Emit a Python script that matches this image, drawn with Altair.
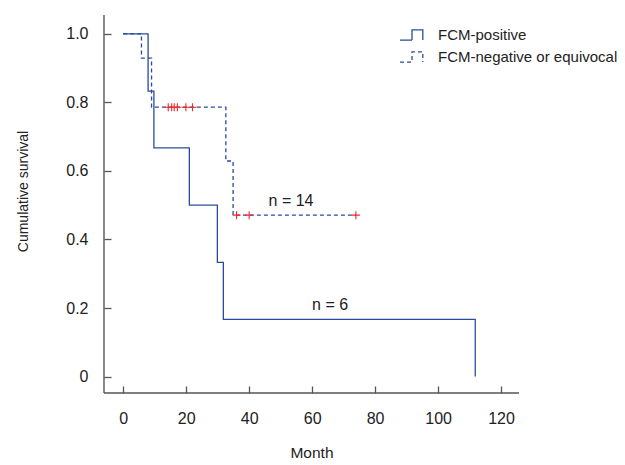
import altair as alt
import pandas as pd

# ---- data ----
pos_month = [0, 7.9, 9.75, 21.0, 29.9, 31.8, 111.8]
pos_surv = [1.0, 0.833, 0.667, 0.5, 0.333, 0.167, 0.0]
neg_month = [0, 5.8, 9.0, 32.6, 34.9, 73.9]
neg_surv = [1.0, 0.929, 0.786, 0.629, 0.471, 0.471]
cens_month = [14.3, 15.4, 16.2, 17.2, 19.9, 22.0, 36.0, 40.0, 73.9]
cens_surv = [0.786, 0.786, 0.786, 0.786, 0.786, 0.786, 0.471, 0.471, 0.471]
ann_text = ["n = 14", "n = 6"]
ann_month = [53.3, 65.7]
ann_surv = [0.511, 0.209]
groups = ["FCM-positive", "FCM-negative or equivocal"]
x_ticks = [0, 20, 40, 60, 80, 100, 120]
y_ticks = [0, 0.2, 0.4, 0.6, 0.8, 1.0]

BLUE = "#2b4a9c"
RED = "#f0282d"
AX = "#555555"
FONT = "Liberation Sans"
W, H = 415, 378

lines_df = pd.DataFrame({
    "month": pos_month + neg_month,
    "surv": pos_surv + neg_surv,
    "group": [groups[0]] * len(pos_month) + [groups[1]] * len(neg_month),
})
cens_df = pd.DataFrame({"month": cens_month, "surv": cens_surv})
ann_df = pd.DataFrame({"month": ann_month, "surv": ann_surv, "text": ann_text})

xs = alt.Scale(domain=[-6.1, 125.7], nice=False, zero=False)
ys = alt.Scale(domain=[-0.048, 1.055], nice=False, zero=False)

x_axis = alt.Axis(values=x_ticks, format="d", offset=-7, tickSize=7, domain=False,
                  grid=False, labelPadding=17, labelFontSize=16, labelColor="#222",
                  tickColor=AX, tickWidth=1.3, title="Month", titleFontSize=15.5,
                  titleFontWeight="normal", titleColor="#222",
                  titleX=207.5, titleY=66, titleBaseline="middle")
y_axis = alt.Axis(values=y_ticks, offset=-7, tickSize=7, domain=False, grid=False,
                  labelExpr="datum.value == 0 ? '0' : format(datum.value, '.1f')",
                  labelPadding=16, labelFontSize=16, labelColor="#222",
                  tickColor=AX, tickWidth=1.3, title="Cumulative survival",
                  titleFontSize=14, titleFontWeight="normal", titleColor="#222",
                  titleX=-88, titleY=176, titleAngle=270, titleAlign="center",
                  titleBaseline="middle")

STEP = "M -1 0.42 H 0 V -0.42 H 0.9 V 0.42"

lines = alt.Chart(lines_df).mark_line(interpolate="step-after", color=BLUE,
                                      strokeWidth=1.3).encode(
    x=alt.X("month:Q", scale=xs, axis=x_axis),
    y=alt.Y("surv:Q", scale=ys, axis=y_axis),
    strokeDash=alt.StrokeDash(
        "group:N",
        scale=alt.Scale(domain=groups, range=[[1, 0], [4, 3]]),
        legend=alt.Legend(title=None, orient="none", legendX=295, legendY=7,
                          symbolType=STEP, symbolSize=576,
                          symbolStrokeColor=BLUE, symbolStrokeWidth=1.3,
                          symbolFillColor="transparent", labelFontSize=15,
                          labelColor="#222", labelOffset=13, rowPadding=1,
                          labelLimit=300, padding=0),
    ),
)

cens = alt.Chart(cens_df).mark_point(shape="M -1 0 H 1 M 0 -1 V 1", size=64,
                                     color=RED, strokeWidth=1.1, filled=False,
                                     opacity=1).encode(
    x=alt.X("month:Q", scale=xs), y=alt.Y("surv:Q", scale=ys))

ann = alt.Chart(ann_df).mark_text(fontSize=16, color="#222", font=FONT).encode(
    x=alt.X("month:Q", scale=xs), y=alt.Y("surv:Q", scale=ys), text="text:N")

base = alt.Chart(pd.DataFrame({"a": [0]}))
xline = base.mark_rule(color=AX, strokeWidth=1.4).encode(
    x=alt.value(0), x2=alt.value(W), y=alt.value(H))
yline = base.mark_rule(color=AX, strokeWidth=1.4).encode(
    x=alt.value(0), y=alt.value(0), y2=alt.value(H))

chart = alt.layer(lines, cens, ann, xline, yline).properties(
    width=W, height=H,
    autosize=alt.AutoSizeParams(type="none"),
    padding={"left": 96, "top": 7, "right": 98, "bottom": 68},
).configure(font=FONT).configure_view(stroke=None)

chart.save("out.html", embed_options={"renderer": "svg", "actions": False})
